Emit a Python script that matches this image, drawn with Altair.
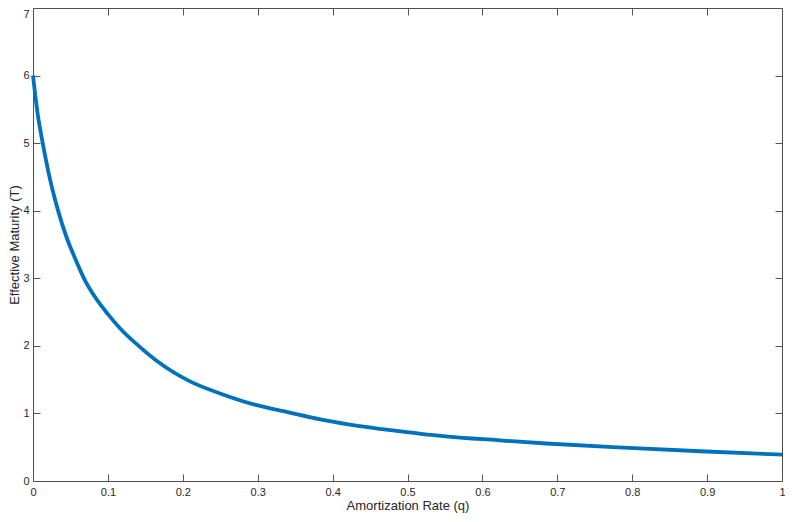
import altair as alt
import pandas as pd

# Amortization rate (q) and effective maturity (T)
q = [0.0, 0.006, 0.013, 0.022, 0.033, 0.045, 0.056, 0.068, 0.0842, 0.1, 0.117, 0.141,
     0.165, 0.209, 0.2525, 0.296, 0.34, 0.3836, 0.423, 0.4885, 0.554, 0.62,
     0.685, 0.781, 0.891, 1.0]
T = [6.0, 5.45, 5.0, 4.5, 4.02, 3.6, 3.3, 3.0, 2.7, 2.47, 2.25, 2.0,
     1.78, 1.478, 1.285, 1.13, 1.02, 0.913, 0.836, 0.739, 0.657, 0.604,
     0.555, 0.497, 0.44, 0.391]

x_ticks = [0, 0.1, 0.2, 0.3, 0.4, 0.5, 0.6, 0.7, 0.8, 0.9, 1]
y_ticks = [0, 1, 2, 3, 4, 5, 6, 7]

df = pd.DataFrame({"q": q, "T": T})

W = 749
H = 473
FONT = "Liberation Sans"
TXT = "#262626"
TICK = "#555555"

xs = alt.Scale(domain=[0, 1], nice=False, zero=False)
ys = alt.Scale(domain=[0, 7], nice=False, zero=False)

base = alt.Chart(df)

main = base.mark_line(color="#0072BD", strokeWidth=3.8, interpolate="monotone").encode(
    x=alt.X("q:Q", scale=xs, axis=alt.Axis(
        orient="bottom", values=x_ticks, format="~g", title="Amortization Rate (q)",
        ticks=False, tickSize=0, domain=False, grid=False,
        labelFont=FONT, labelFontSize=11, labelColor=TXT, labelPadding=5,
        labelFlush=False, labelOverlap=False,
        titleFont=FONT, titleFontSize=13, titleFontWeight="normal", titleColor=TXT,
        titlePadding=2)),
    y=alt.Y("T:Q", scale=ys, axis=alt.Axis(
        orient="left", values=y_ticks, format="d", title="Effective Maturity (T)",
        ticks=False, tickSize=0, domain=False, grid=False,
        labelFont=FONT, labelFontSize=11, labelColor=TXT, labelPadding=4,
        labelFlush=False, labelOverlap=False,
        labelBaseline={"condition": {"test": "datum.value == 7", "value": "top"}, "value": "middle"},
        titleFont=FONT, titleFontSize=13, titleFontWeight="normal", titleColor=TXT,
        titlePadding=1)),
)

# inward ticks along bottom and left edges
ticks_a = base.mark_line(opacity=0).encode(
    x=alt.X("q:Q", scale=xs, axis=alt.Axis(
        orient="top", offset=-H, values=x_ticks, labels=False, title=None,
        domain=False, grid=False, ticks=True, tickSize=7, tickColor=TICK, tickWidth=1)),
    y=alt.Y("T:Q", scale=ys, axis=alt.Axis(
        orient="right", offset=-W, values=y_ticks, labels=False, title=None,
        domain=False, grid=False, ticks=True, tickSize=7, tickColor=TICK, tickWidth=1)),
)

# inward ticks along top and right edges
ticks_b = base.mark_line(opacity=0).encode(
    x=alt.X("q:Q", scale=xs, axis=alt.Axis(
        orient="bottom", offset=-H, values=x_ticks, labels=False, title=None,
        domain=False, grid=False, ticks=True, tickSize=7, tickColor=TICK, tickWidth=1)),
    y=alt.Y("T:Q", scale=ys, axis=alt.Axis(
        orient="left", offset=-W, values=y_ticks, labels=False, title=None,
        domain=False, grid=False, ticks=True, tickSize=7, tickColor=TICK, tickWidth=1)),
)

chart = alt.layer(main, ticks_a, ticks_b).resolve_axis(
    x="independent", y="independent"
).properties(
    width=W, height=H,
    autosize=alt.AutoSizeParams(type="none"),
    padding={"left": 25, "top": 0, "right": 3, "bottom": 33},
    background="white",
).configure_view(
    stroke="#4d4d4d", strokeWidth=1
)

chart.save("out.html", embed_options={"renderer": "svg", "actions": False})
